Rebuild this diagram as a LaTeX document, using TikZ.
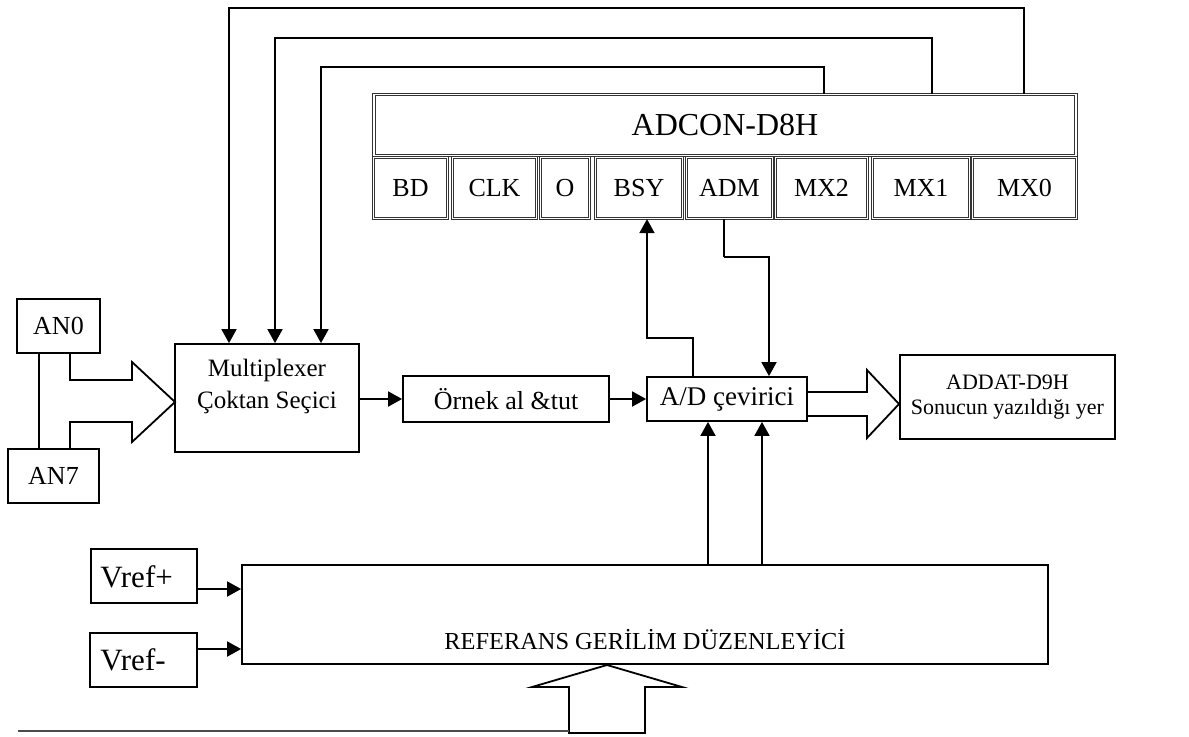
\documentclass[tikz,border=0pt]{standalone}
\usepackage{fontspec}
\setmainfont{Liberation Serif}
\usetikzlibrary{arrows.meta}
\begin{document}
\begin{tikzpicture}[x=0.5pt,y=-0.5pt,
  box/.style={draw, line width=0.9pt, fill=white, inner sep=0pt, font=\fontsize{13}{15}\selectfont},
  dbl/.style={draw=black!80, double=white, double distance=0.6pt, line width=0.6pt, inner sep=0pt, font=\fontsize{13}{15}\selectfont},
  conn/.style={line width=0.9pt},
  arr/.style={conn, -{Triangle[length=7pt,width=7.5pt]}},
  hollow/.style={line width=0.9pt, line join=miter},
  lbl/.style={inner sep=0pt}]
\useasboundingbox (0,0) rectangle (1189,736);
\fill[white] (0,0) rectangle (1189,736);

% ADCON register
\node[dbl, minimum width=351pt, minimum height=30.5pt, font=\fontsize{16}{18}\selectfont] (adcon) at (725,125) {ADCON-D8H};
\node[dbl, minimum width=37pt,   minimum height=30.5pt] (bd)  at (410.5,188) {BD};
\node[dbl, minimum width=42pt,   minimum height=30.5pt] (clk) at (494.5,188) {CLK};
\node[dbl, minimum width=24.5pt, minimum height=30.5pt] (o)   at (565,188)   {O};
\node[dbl, minimum width=43.5pt, minimum height=30.5pt] (bsy) at (639,188)   {BSY};
\node[dbl, minimum width=43pt,   minimum height=30.5pt] (adm) at (729.5,188) {ADM};
\node[dbl, minimum width=46pt,   minimum height=30.5pt] (mx2) at (821.5,188) {MX2};
\node[dbl, minimum width=48.5pt, minimum height=30.5pt] (mx1) at (921,188)   {MX1};
\node[dbl, minimum width=52pt,   minimum height=30.5pt] (mx0) at (1024.5,188) {MX0};

% inputs
\node[box, minimum width=41.5pt, minimum height=27pt] (an0) at (58.5,326) {AN0};
\node[box, minimum width=45.5pt, minimum height=27pt] (an7) at (53.5,476) {AN7};

% main chain
\node[box, minimum width=92pt, minimum height=54pt] (mux) at (267,398) {};
\node[lbl, align=center, font=\fontsize{12.5}{16}\selectfont] (muxt) at (267,386) {Multiplexer\\Çoktan Seçici};
\node[box, minimum width=103pt, minimum height=23pt] (ornek) at (506,399) {Örnek al \&tut};
\node[box, minimum width=80pt, minimum height=22pt, font=\fontsize{13.5}{15}\selectfont] (ad) at (727,399) {A/D çevirici};
\node[box, minimum width=107.5pt, minimum height=42pt, align=center, font=\fontsize{11}{12.5}\selectfont] (addat) at (1007.5,397) {ADDAT-D9H\\Sonucun yazıldığı yer};

% reference
\node[box, minimum width=53pt, minimum height=27pt, font=\fontsize{15.5}{17}\selectfont] (vrefp) at (144,576) {};
\node[lbl, anchor=west, font=\fontsize{15.5}{17}\selectfont] (vrefpt) at (100,577) {Vref+};
\node[box, minimum width=53.5pt, minimum height=27pt, font=\fontsize{15.5}{17}\selectfont] (vrefm) at (143.5,660) {};
\node[lbl, anchor=west, font=\fontsize{15.5}{17}\selectfont] (vrefmt) at (100,660) {Vref-};
\node[box, minimum width=403pt, minimum height=49.5pt] (ref) at (645,614.5) {};
\node[lbl, font=\fontsize{12.2}{14}\selectfont] (reft) at (645,640) {REFERANS GERİLİM DÜZENLEYİCİ};

% helper coordinates
\coordinate (t1) at (229,8);   \coordinate (t1b) at (1024,8);
\coordinate (t2) at (275,38);  \coordinate (t2b) at (932,38);
\coordinate (t3) at (321,67);  \coordinate (t3b) at (824,67);
\coordinate (c1) at (693,338); \coordinate (c2) at (647,338);
\coordinate (d1) at (724,257); \coordinate (d2) at (769,257);
\coordinate (r1) at (708,0);   \coordinate (r2) at (762,0);
\coordinate (v1) at (0,589);   \coordinate (v2) at (0,649);
\coordinate (a1) at (39,0);

% select lines from ADCON to multiplexer
\draw[arr] (adcon.north -| t1b) |- (t1) -- (mux.north -| t1);
\draw[arr] (adcon.north -| t2b) |- (t2) -- (mux.north -| t2);
\draw[arr] (adcon.north -| t3b) |- (t3) -- (mux.north -| t3);

% chain arrows
\draw[arr] (mux.east |- ornek.west) -- (ornek.west);
\draw[arr] (ornek.east) -- (ad.west);

% BSY and ADM
\draw[arr] (ad.north -| c1) -- (c1) -- (c2) -- (bsy.south -| c2);
\draw[conn] (adm.south -| d1) -- (d1);
\draw[arr] (d1) -- (d2) -- (ad.north -| d2);

% reference to A/D
\draw[arr] (ref.north -| r1) -- (ad.south -| r1);
\draw[arr] (ref.north -| r2) -- (ad.south -| r2);

% Vref arrows
\draw[arr] (vrefp.east |- v1) -- (ref.west |- v1);
\draw[arr] (vrefm.east |- v2) -- (ref.west |- v2);

% AN0 - AN7 link
\draw[conn] (an0.south -| a1) -- (an7.north -| a1);

% hollow arrows
\draw[hollow] (70,353) -- (70,380) -- (132,380) -- (132,362) -- (175,402) -- (132,442) -- (132,422) -- (70,422) -- (70,449);
\draw[hollow] (807,392) -- (867,392) -- (867,370) -- (899,404) -- (867,438) -- (867,416) -- (807,416);
\draw[hollow] (569,733) -- (569,687) -- (532,687) -- (607,665) -- (682,687) -- (645,687) -- (645,733) -- cycle;

% bottom rule
\draw[line width=0.8pt, black!70] (18,731) -- (569,731);
\end{tikzpicture}
\end{document}
